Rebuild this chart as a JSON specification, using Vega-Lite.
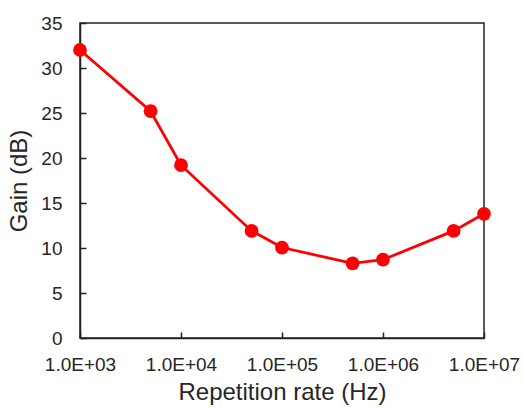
{
  "$schema": "https://vega.github.io/schema/vega-lite/v6.json",
  "width": 404,
  "height": 315,
  "autosize": "none",
  "padding": {"left": 80, "top": 23, "right": 39, "bottom": 70},
  "background": "white",
  "config": {
    "view": {"stroke": "#222222", "strokeWidth": 1.5},
    "font": "Liberation Sans",
    "axis": {
      "grid": false,
      "domainColor": "#222222",
      "domainWidth": 1.5,
      "tickColor": "#222222",
      "tickWidth": 1.5,
      "labelColor": "#262626",
      "titleColor": "#262626",
      "labelFont": "Liberation Sans",
      "titleFont": "Liberation Sans",
      "titleFontWeight": "normal"
    }
  },
  "data": {
    "values": [
      {"rate": 1000, "gain": 32.0},
      {"rate": 5000, "gain": 25.2},
      {"rate": 10000, "gain": 19.2},
      {"rate": 50000, "gain": 11.9},
      {"rate": 100000, "gain": 10.05},
      {"rate": 500000, "gain": 8.3},
      {"rate": 1000000, "gain": 8.7},
      {"rate": 5000000, "gain": 11.9},
      {"rate": 10000000, "gain": 13.8}
    ]
  },
  "layer": [
    {
      "mark": {"type": "line", "color": "#ff0000", "strokeWidth": 2.8, "clip": false},
      "encoding": {
        "x": {
          "field": "rate", "type": "quantitative",
          "scale": {"type": "log", "domain": [1000, 10000000], "nice": false},
          "axis": {
            "values": [1000, 10000, 100000, 1000000, 10000000],
            "labelExpr": "'1.0E+0' + round(log(datum.value)/LN10)",
            "labelFlush": false,
            "labelFontSize": 19,
            "tickSize": -6,
            "labelPadding": 23,
            "title": "Repetition rate (Hz)",
            "titleFontSize": 24,
            "titlePadding": 6
          }
        },
        "y": {
          "field": "gain", "type": "quantitative",
          "scale": {"domain": [0, 35], "nice": false},
          "axis": {
            "values": [0, 5, 10, 15, 20, 25, 30, 35],
            "labelFontSize": 19,
            "tickSize": -6,
            "labelPadding": 24,
            "title": "Gain (dB)",
            "titleFontSize": 24,
            "titlePadding": 9
          }
        }
      }
    },
    {
      "mark": {"type": "point", "filled": true, "color": "#ff0000", "size": 190, "opacity": 1, "clip": false},
      "encoding": {
        "x": {"field": "rate", "type": "quantitative", "scale": {"type": "log", "domain": [1000, 10000000], "nice": false}},
        "y": {"field": "gain", "type": "quantitative", "scale": {"domain": [0, 35], "nice": false}}
      }
    }
  ]
}
